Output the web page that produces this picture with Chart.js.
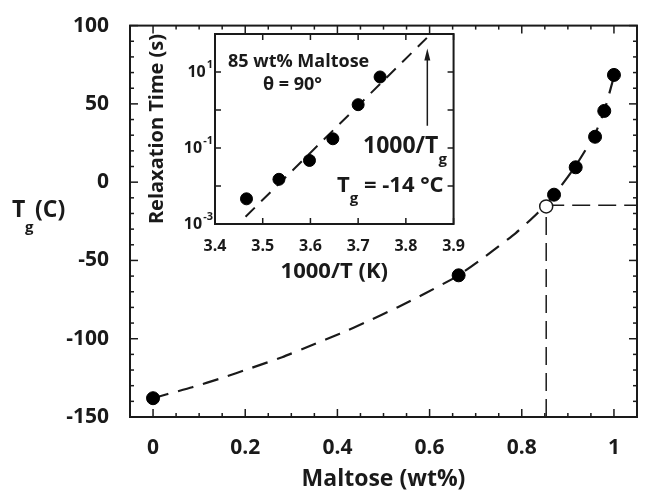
<!DOCTYPE html>
<html>
<head>
<meta charset="utf-8">
<script src="https://cdn.jsdelivr.net/npm/chart.js@4/dist/chart.umd.min.js"></script>
<style>
  html, body { margin: 0; padding: 0; background: #fff; }
  #wrap { position: relative; width: 645px; height: 495px; }
  #main { position: absolute; left: 0; top: 0; }
  #inset { position: absolute; left: 130px; top: 18px; }
</style>
</head>
<body>
<div id="wrap">
  <canvas id="main" width="645" height="495"></canvas>
  <canvas id="inset" width="340" height="280"></canvas>
</div>
<script>
// Main plot: glass transition vs maltose fraction
const maltoseFrac = [0, 0.663, 0.870, 0.917, 0.959, 0.979, 1.0];
const tgMeasured = [-138, -59.5, -8, 9.5, 29, 45.5, 68.5];

// Tg at 85 wt%
const tgEstFrac = [0.853];
const tgEst = [-15.5];

// dashed fit curve
const fitFrac = [0, 0.03, 0.085, 0.15, 0.21, 0.28, 0.344, 0.405, 0.465, 0.53, 0.592, 0.661,
    0.718, 0.787, 0.835, 0.872, 0.917, 0.959, 0.979, 1.0];
const fitTg = [-138, -135.5, -131, -125, -119, -111.8, -104.2, -96.8, -89, -80, -70.8, -59.8,
    -48, -32.5, -19.5, -7.5, 10.5, 31, 45.5, 67.5];

const xTickVals = [0, 0.2, 0.4, 0.6, 0.8, 1];
const yTickVals = [-150, -100, -50, 0, 50, 100];

// Inset: relaxation time vs 1000/T
const invT = [3.466, 3.534, 3.598, 3.647, 3.700, 3.746];
const tauSec = [0.0046, 0.015, 0.047, 0.175, 1.38, 7.4];
const invTFit = [3.464, 3.844];
const tauFit = [0.00155, 79];
const invTTickVals = [3.4, 3.5, 3.6, 3.7, 3.8, 3.9];
const tauDecades = [1e-3, 1e-2, 1e-1, 1e0, 1e1, 1e2];
const tauLabels = [[1e-3, "-3"], [1e-1, "-1"], [1e1, "1"]];

const INK = "#1a1a1a";
const FONT = "'Open Sans', 'DejaVu Sans', sans-serif";

const pts = (xs, ys) => xs.map((v, i) => ({ x: v, y: ys[i] }));

function line(ctx, x1, y1, x2, y2) {
    ctx.beginPath();
    ctx.moveTo(x1, y1);
    ctx.lineTo(x2, y2);
    ctx.stroke();
}

// frame + inward ticks on all four sides, and the T_g (C) title
const mainFrame = {
    id: "mainFrame",
    afterDraw(chart) {
        const { ctx, chartArea: a, scales: { x, y } } = chart;
        ctx.save();
        ctx.strokeStyle = INK;
        ctx.lineWidth = 2;
        ctx.strokeRect(a.left, a.top, a.right - a.left, a.bottom - a.top);

        ctx.lineWidth = 1.5;
        for (let i = 0; i <= 20; i++) {
            const px = x.getPixelForValue(i / 20);
            const len = i % 4 === 0 ? 8 : 4;
            line(ctx, px, a.bottom, px, a.bottom - len);
            line(ctx, px, a.top, px, a.top + len);
        }
        for (let v = -150; v <= 100; v += 10) {
            const py = y.getPixelForValue(v);
            const len = v % 50 === 0 ? 8 : 4;
            line(ctx, a.left, py, a.left + len, py);
            line(ctx, a.right, py, a.right - len, py);
        }

        // y title with subscript
        ctx.fillStyle = INK;
        ctx.textBaseline = "alphabetic";
        ctx.textAlign = "left";
        ctx.font = "bold 23px " + FONT;
        ctx.fillText("T", 12, 217);
        ctx.font = "bold 15px " + FONT;
        ctx.fillText("g", 25, 232);
        ctx.font = "bold 23px " + FONT;
        ctx.fillText("(C)", 35, 217);
        ctx.restore();
    },
};

new Chart(document.getElementById("main"), {
    type: "scatter",
    data: {
        datasets: [
            {
                data: pts(tgEstFrac, tgEst),
                pointRadius: 6.5,
                backgroundColor: "#fff",
                borderColor: INK,
                borderWidth: 1.5,
            },
            {
                data: pts(maltoseFrac, tgMeasured),
                pointRadius: 6.5,
                backgroundColor: "#000",
                borderColor: "#000",
            },
            {
                data: pts(fitFrac, fitTg),
                showLine: true,
                pointRadius: 0,
                borderColor: INK,
                borderWidth: 2.2,
                borderDash: [16, 10],
                tension: 0.2,
            },
            {
                data: [{ x: tgEstFrac[0], y: -150 }, { x: tgEstFrac[0], y: tgEst[0] }],
                showLine: true,
                pointRadius: 0,
                borderColor: INK,
                borderWidth: 1.5,
                borderDash: [18, 8],
            },
            {
                data: [{ x: tgEstFrac[0], y: tgEst[0] + 0.8 }, { x: 1.05, y: tgEst[0] + 0.8 }],
                showLine: true,
                pointRadius: 0,
                borderColor: INK,
                borderWidth: 1.5,
                borderDash: [18, 8],
            },
        ],
    },
    options: {
        responsive: false,
        animation: false,
        events: [],
        layout: { padding: { top: 18, right: 1, left: 0, bottom: 0 } },
        plugins: { legend: { display: false }, tooltip: { enabled: false } },
        scales: {
            x: {
                type: "linear",
                min: -0.05,
                max: 1.05,
                grid: { display: false },
                border: { display: false },
                afterBuildTicks: (s) => { s.ticks = xTickVals.map((v) => ({ value: v })); },
                afterFit: (s) => { s.height = 78; },
                ticks: {
                    color: INK,
                    font: { family: FONT, size: 21, weight: "bold" },
                    padding: 10,
                    maxRotation: 0,
                    callback: (v) => String(v),
                },
                title: {
                    display: true,
                    text: "Maltose (wt%)",
                    color: INK,
                    font: { family: FONT, size: 23, weight: "bold" },
                    padding: { top: 0, bottom: 2 },
                },
            },
            y: {
                type: "linear",
                min: -150,
                max: 100,
                grid: { display: false },
                border: { display: false },
                afterBuildTicks: (s) => { s.ticks = yTickVals.map((v) => ({ value: v })); },
                afterFit: (s) => { s.width = 130; },
                ticks: {
                    color: INK,
                    font: { family: FONT, size: 21, weight: "bold" },
                    padding: 13,
                    callback: (v) => String(v),
                },
            },
        },
    },
    plugins: [mainFrame],
});

// inset frame, ticks, superscript labels, notes and arrow
const insetFrame = {
    id: "insetFrame",
    afterDraw(chart) {
        const { ctx, chartArea: a, scales: { x, y } } = chart;
        ctx.save();
        ctx.strokeStyle = INK;
        ctx.fillStyle = INK;
        ctx.lineWidth = 2;
        ctx.strokeRect(a.left, a.top, a.right - a.left, a.bottom - a.top);

        ctx.lineWidth = 1.5;
        invTTickVals.forEach((v) => {
            const px = x.getPixelForValue(v);
            line(ctx, px, a.bottom, px, a.bottom - 6);
            line(ctx, px, a.top, px, a.top + 6);
        });
        tauDecades.forEach((v) => {
            const py = y.getPixelForValue(v);
            line(ctx, a.left, py, a.left + 6, py);
            line(ctx, a.right, py, a.right - 6, py);
        });

        // 10^n labels
        tauLabels.forEach(([v, exp]) => {
            const py = y.getPixelForValue(v);
            ctx.textAlign = "right";
            ctx.textBaseline = "middle";
            ctx.font = "bold 11px " + FONT;
            const ew = ctx.measureText(exp).width;
            ctx.fillText(exp, a.left - 2, py - 7);
            ctx.font = "bold 16px " + FONT;
            ctx.fillText("10", a.left - 3 - ew, py);
        });

        ctx.textAlign = "left";
        ctx.textBaseline = "alphabetic";
        ctx.font = "bold 18px " + FONT;
        ctx.fillText("85 wt% Maltose", 98, 49);
        ctx.fillText("\u03b8 = 90\u00b0", 133, 72);

        ctx.font = "bold 23px " + FONT;
        ctx.fillText("1000/T", 233, 135);
        let w = ctx.measureText("1000/T").width;
        ctx.font = "bold 15px " + FONT;
        ctx.fillText("g", 233 + w, 146);

        ctx.font = "bold 22px " + FONT;
        ctx.fillText("T", 207, 174);
        w = ctx.measureText("T").width;
        ctx.font = "bold 15px " + FONT;
        ctx.fillText("g", 207 + w, 185);
        const gw = ctx.measureText("g").width;
        ctx.font = "bold 22px " + FONT;
        ctx.fillText(" = -14 \u00b0C", 207 + w + gw, 174);

        // arrow up to 1000/Tg
        const ax = x.getPixelForValue(3.845);
        const y0 = y.getPixelForValue(0.385);
        const y1 = y.getPixelForValue(41.6);
        ctx.lineWidth = 1.5;
        line(ctx, ax, y0, ax, y1 + 8);
        ctx.beginPath();
        ctx.moveTo(ax, y1);
        ctx.lineTo(ax - 3, y1 + 12);
        ctx.lineTo(ax + 3, y1 + 12);
        ctx.closePath();
        ctx.fill();
        ctx.restore();
    },
};

new Chart(document.getElementById("inset"), {
    type: "scatter",
    data: {
        datasets: [
            {
                data: pts(invT, tauSec),
                pointRadius: 6,
                backgroundColor: "#000",
                borderColor: "#000",
            },
            {
                data: pts(invTFit, tauFit),
                showLine: true,
                pointRadius: 0,
                borderColor: INK,
                borderWidth: 2,
                borderDash: [13, 9],
            },
        ],
    },
    options: {
        responsive: false,
        animation: false,
        events: [],
        layout: { padding: { top: 16, right: 9, left: 0, bottom: 0 } },
        plugins: { legend: { display: false }, tooltip: { enabled: false } },
        scales: {
            x: {
                type: "linear",
                min: 3.4,
                max: 3.9,
                grid: { display: false },
                border: { display: false },
                afterBuildTicks: (s) => { s.ticks = invTTickVals.map((v) => ({ value: v })); },
                afterFit: (s) => { s.height = 74; },
                ticks: {
                    color: INK,
                    font: { family: FONT, size: 16, weight: "bold" },
                    padding: 5,
                    maxRotation: 0,
                    callback: (v) => v.toFixed(1),
                },
                title: {
                    display: true,
                    text: "1000/T (K)",
                    color: INK,
                    font: { family: FONT, size: 22, weight: "bold" },
                    padding: { top: 0, bottom: 13 },
                },
            },
            y: {
                type: "logarithmic",
                min: 1e-3,
                max: 1e2,
                grid: { display: false },
                border: { display: false },
                afterBuildTicks: (s) => { s.ticks = tauDecades.map((v) => ({ value: v })); },
                afterFit: (s) => { s.width = 85; },
                ticks: { display: false },
                title: {
                    display: true,
                    text: "Relaxation Time (s)",
                    color: INK,
                    font: { family: FONT, size: 20, weight: "bold" },
                    padding: { top: 15, bottom: 0 },
                },
            },
        },
    },
    plugins: [insetFrame],
});
</script>
</body>
</html>
